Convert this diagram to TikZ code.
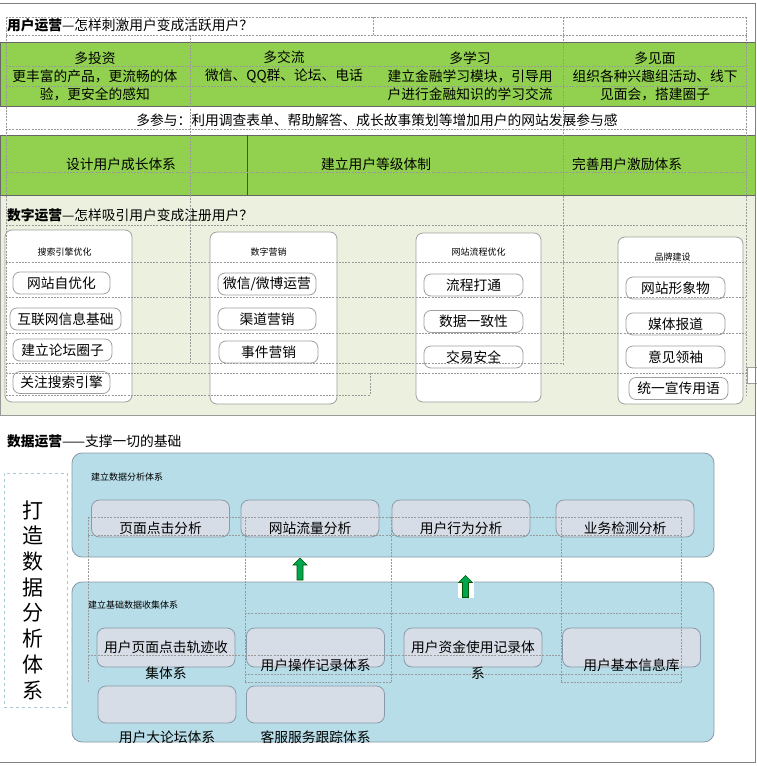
\documentclass[tikz,border=0pt]{standalone}
\usepackage{fontspec}
\setmainfont{Noto Sans CJK SC}
\usetikzlibrary{positioning}
\definecolor{leafgreen}{HTML}{92D050}
\definecolor{palegreen}{HTML}{EBF1DE}
\definecolor{skyblue}{HTML}{B7DDE8}
\definecolor{lavgray}{HTML}{D7DDE7}
\definecolor{boxline}{HTML}{8A9AA8}
\definecolor{arrowgreen}{HTML}{00A550}
\definecolor{gridgray}{HTML}{9A9A9A}
\definecolor{dashblue}{HTML}{A9C7D4}

\begin{document}
\begin{tikzpicture}[
    x=1pt, y=-1pt,
    body/.style={font=\fontsize{13.75}{18}\selectfont, inner sep=0pt},
    heading/.style={body, anchor=west},
    tag/.style={font=\fontsize{9}{10}\selectfont, inner sep=0pt},
    band/.style={fill=leafgreen, draw=gray!80!black, line width=0.8pt,
        minimum width=755pt, inner sep=0pt},
    panel/.style={draw=gray!75, fill=white, rounded corners=7pt,
        line width=0.8pt, inner sep=0pt},
    pill/.style={body, draw=gray!75, rounded corners=7pt, line width=0.8pt,
        minimum height=22pt},
    bluepanel/.style={draw=boxline, fill=skyblue, rounded corners=10pt,
        line width=0.8pt, minimum width=642pt, inner sep=0pt},
    slab/.style={draw=boxline, fill=lavgray, rounded corners=8pt,
        line width=0.8pt, minimum width=138pt, minimum height=38pt, inner sep=0pt},
    gridline/.style={draw=gridgray, line width=0.4pt, dash pattern=on 2pt off 1.2pt},
    uparrow/.style={fill=arrowgreen, draw=green!35!black, line width=0.6pt}
]
\useasboundingbox (0,0) rectangle (757,766);

% User operation
\node[heading] (usertitle) at (7,25) {{\bfseries 用户运营}—怎样刺激用户变成活跃用户？};

\node[band, minimum height=64pt] (goals) at (377.5,74) {};
\node[body, align=center] (invest) at (95,76) {多投资\\更丰富的产品，更流畅的体\\验，更安全的感知};
\node[body, align=center] (chat) at (284,67) {多交流\\微信、QQ群、论坛、电话};
\node[body, align=center] (learn) at (470,76) {多学习\\建立金融学习模块，引导用\\户进行金融知识的学习交流};
\node[body, align=center] (meet) at (655,76) {多见面\\组织各种兴趣组活动、线下\\见面会，搭建圈子};

\node[body] (join) at (377,120) {多参与：利用调查表单、帮助解答、成长故事策划等增加用户的网站发展参与感};

% Digital operation
\node[fill=palegreen, draw=gray!80, line width=0.8pt, minimum width=755pt,
    minimum height=220pt, inner sep=0pt] (digital) at (377.5,305) {};
\node[band, minimum height=60pt] (growth) at (377.5,165) {};
\draw[gray!60!black, line width=0.8pt] (growth.north west) ++(248,0) -- ++(0,60);
\node[body] (grow) at (121,164) {设计用户成长体系};
\node[body] (level) at (376,164) {建立用户等级体制};
\node[body] (reward) at (627,164) {完善用户激励体系};

\node[heading] (digitaltitle) at (7,215) {{\bfseries 数字运营}—怎样吸引用户变成注册用户？};

\node[panel, minimum width=127pt, minimum height=172pt] (seo) at (68.5,316) {};
\node[tag, below=18pt of seo.north, xshift=-4pt] {搜索引擎优化};
\node[pill, minimum width=97pt] (selfopt) at (61.5,283) {网站自优化};
\node[pill, minimum width=111pt] (netinfo) at (65.5,319) {互联网信息基础};
\node[pill, minimum width=99pt] (forumring) at (62.5,350) {建立论坛圈子};
\node[pill, minimum width=97pt] (engine) at (61.5,382.5) {关注搜索引擎};

\node[panel, minimum width=127pt, minimum height=172pt] (market) at (273.5,318) {};
\node[tag, below=16pt of market.north, xshift=-5pt] {数字营销};
\node[pill, minimum width=98pt] (wechat) at (267,284) {微信/微博运营};
\node[pill, minimum width=98pt] (channel) at (267,319) {渠道营销};
\node[pill, minimum width=99pt] (event) at (268.5,352) {事件营销};

\node[panel, minimum width=125pt, minimum height=169pt] (process) at (478.5,317.5) {};
\node[tag, below=15pt of process.north] {网站流程优化};
\node[pill, minimum width=99pt] (through) at (473.5,285) {流程打通};
\node[pill, minimum width=99pt] (consist) at (473.5,321.5) {数据一致性};
\node[pill, minimum width=99pt] (safety) at (473.5,357) {交易安全};

\node[panel, minimum width=125pt, minimum height=167pt] (brand) at (680.5,320.5) {};
\node[tag, below=16pt of brand.north, xshift=-8pt] {品牌建设};
\node[pill, minimum width=99pt] (mascot) at (675.5,288) {网站形象物};
\node[pill, minimum width=99pt] (media) at (675.5,324) {媒体报道};
\node[pill, minimum width=99pt] (opinion) at (675.5,357) {意见领袖};
\node[pill, minimum width=99pt] (slogan) at (678.5,388.5) {统一宣传用语};

\node[draw=gray!75, fill=white, minimum width=12pt, minimum height=16pt,
    inner sep=0pt] (edgebox) at (753,375) {};

% Data operation
\node[heading] (datatitle) at (7,441) {{\bfseries 数据运营}——支撑一切的基础};

\node[draw=dashblue, dashed, line width=1pt, minimum width=63pt,
    minimum height=234pt, inner sep=0pt] (buildbox) at (35.5,590) {};
\node[align=center, font=\fontsize{21}{25.7}\selectfont, inner sep=0pt]
    (buildtext) at (33,600) {打\\造\\数\\据\\分\\析\\体\\系};

\node[bluepanel, minimum height=104pt] (analysis) at (393,505) {};
\node[tag, anchor=west] at (91,477) {建立数据分析体系};
\node[slab, minimum height=37pt] (pageclick) at (160.5,518.5) {};
\node[body, above=3pt of pageclick.south] {页面点击分析};
\node[slab, minimum height=37pt] (traffic) at (310,518.5) {};
\node[body, above=3pt of traffic.south] {网站流量分析};
\node[slab, minimum height=37pt] (behave) at (461,518.5) {};
\node[body, above=3pt of behave.south] {用户行为分析};
\node[slab, minimum height=37pt] (bizcheck) at (625,518.5) {};
\node[body, above=3pt of bizcheck.south] {业务检测分析};

\node[bluepanel, minimum height=160pt] (collect) at (393,662) {};
\node[tag, anchor=west] at (88,605) {建立基础数据收集体系};
\node[slab, minimum height=39pt] (trail) at (166,647.5) {};
\node[body] at (trail.center) {用户页面点击轨迹收};
\node[body, below=-1pt of trail.south] {集体系};
\node[slab, minimum height=39pt] (oplog) at (315.5,647.5) {};
\node[body, above=-4pt of oplog.south] {用户操作记录体系};
\node[slab, minimum height=39pt] (fund) at (473,647.5) {};
\node[body] at (fund.center) {用户资金使用记录体};
\node[body, below=-1pt of fund.south, xshift=5pt] {系};
\node[slab, minimum height=39pt] (basic) at (631.5,647.5) {};
\node[body, above=-4pt of basic.south] {用户基本信息库};
\node[slab, minimum height=37pt] (bigforum) at (167,704.5) {};
\node[body, below=7pt of bigforum.south] {用户大论坛体系};
\node[slab, minimum height=37pt] (service) at (315.5,704.5) {};
\node[body, below=7pt of service.south] {客服服务跟踪体系};

% Arrows
\coordinate (lift1) at (300,569);
\node[fill=white, minimum width=16pt, minimum height=23pt, inner sep=0pt] (lift2) at (465.5,586.5) {};
\draw[uparrow] (lift1) ++(-3,11) -- ++(0,-15) -- ++(-4,0) -- ++(7,-7)
    -- ++(7,7) -- ++(-4,0) -- ++(0,15) -- cycle;
\draw[uparrow] (lift2.center) ++(-3,11) -- ++(0,-15) -- ++(-4,0) -- ++(7,-7)
    -- ++(7,7) -- ++(-4,0) -- ++(0,15) -- cycle;

% Table grid
\draw[gridline] (6,17) -- (748,17) (6,35) -- (748,35);
\draw[gridline] (6,17) -- (6,395) (746,17) -- (746,395) (563,17) -- (563,365);
\draw[gridline] (373,17) -- (373,35) (190,35) -- (190,363);
\draw[gridline] (6,66) -- (746,66) (6,86) -- (746,86) (6,129) -- (746,129) (6,172) -- (746,172);
\draw[gridline] (6,225) -- (746,225) (6,262) -- (746,262) (6,297) -- (746,297) (6,333) -- (746,333);
\draw[gridline] (6,363) -- (563,363) (6,373) -- (746,373) (6,395) -- (370,395) (370,373) -- (370,395);
\draw[gridline] (88,517) -- (681,517) (88,535) -- (681,535);
\draw[gridline] (88,517) -- (88,682) (245,517) -- (245,682) (391,517) -- (391,682);
\draw[gridline] (561,517) -- (561,682) (681,517) -- (681,682);
\draw[gridline] (245,613) -- (681,613) (88,655) -- (561,655) (245,674) -- (681,674) (245,682) -- (391,682) (561,682) -- (681,682);

% Page frame
\draw[gray, line width=0.8pt] (0,3) -- (755,3) -- (755,762) -- (0,762);
\end{tikzpicture}
\end{document}
